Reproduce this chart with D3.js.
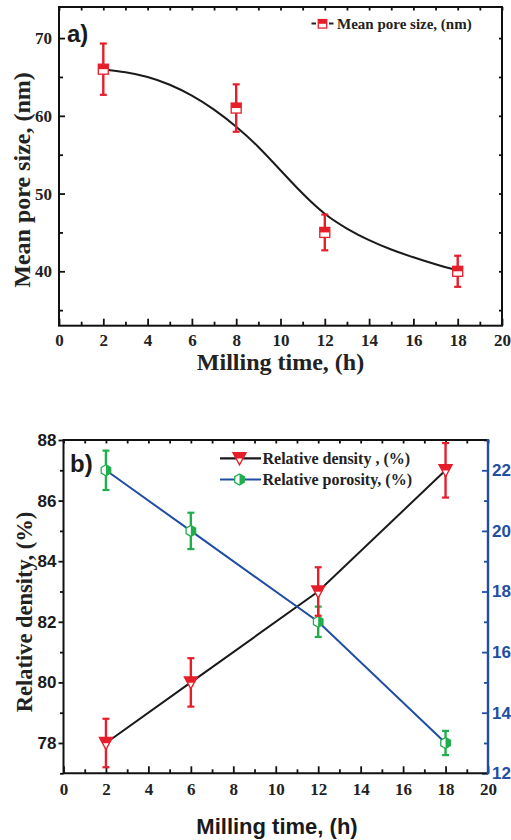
<!DOCTYPE html>
<html>
<head>
<meta charset="utf-8">
<script src="https://cdn.jsdelivr.net/npm/d3@7"></script>
<style>
  html, body { margin: 0; padding: 0; background: #fff; }
  svg { display: block; }
</style>
</head>
<body>
<svg id="chart" width="511" height="840"></svg>
<script>
// ---------- DATA ----------
// Panel a
const timesA = [2, 8, 12, 18];
const poreSize = [66, 61, 45, 40];
const poreErr = [3.3, 3.05, 2.3, 2.0];
const fitTimes = [2, 3, 4, 5, 6, 7, 8, 9, 10, 11, 12, 13, 14, 15, 16, 17, 18];
const fitValues = [66.0, 65.6, 65.0, 64.0, 62.6, 60.8, 58.6, 56.0, 53.0, 50.0, 47.4, 45.5, 44.0, 42.8, 41.8, 40.9, 40.1];
const xTicksA = [0, 2, 4, 6, 8, 10, 12, 14, 16, 18, 20];
const xMinorA = [1, 3, 5, 7, 9, 11, 13, 15, 17, 19];
const yTicksA = [40, 50, 60, 70];
const yMinorA = [35, 45, 55, 65];
const legendA = "Mean pore size, (nm)";
// Panel b
const timesB = [2, 6, 12, 18];
const density = [78, 80, 83, 87];
const densityErr = [0.8, 0.8, 0.8, 0.9];
const porosity = [22, 20, 17, 13];
const porosityErr = [0.65, 0.6, 0.5, 0.4];
const xTicksB = [0, 2, 4, 6, 8, 10, 12, 14, 16, 18, 20];
const xMinorB = [1, 3, 5, 7, 9, 11, 13, 15, 17, 19];
const yTicksB = [78, 80, 82, 84, 86, 88];
const yMinorB = [77, 79, 81, 83, 85, 87];
const yTicksR = [12, 14, 16, 18, 20, 22];
const yMinorR = [13, 15, 17, 19, 21, 23];
const legendB = ["Relative density , (%)", "Relative porosity, (%)"];

// ---------- STYLE ----------
const RED = "#e61e2a", GREEN = "#1fae4b", BLUE = "#1f4ea3";
const SERIF = "'Liberation Serif', 'Times New Roman', serif";
const SANS = "'Liberation Sans', Arial, sans-serif";

const svg = d3.select("#chart");

function styleAxis(g, color) {
  g.select(".domain").remove();
  g.selectAll(".tick line").attr("stroke", color).attr("stroke-width", 1.8);
}

// ================= PANEL A =================
const xA = d3.scaleLinear().domain([0, 20]).range([59, 502]);
const yA = d3.scaleLinear().domain([33, 74]).range([325.7, 7]);
const gA = svg.append("g");

// bottom axis
gA.append("g").attr("transform", `translate(0,${yA.range()[0]})`)
  .call(d3.axisBottom(xA).tickValues(xTicksA).tickSize(-7).tickFormat(d3.format("d")))
  .call(g => { styleAxis(g, "#111");
    g.selectAll("text").attr("y", 20.5).attr("dy", null)
      .attr("font-family", SERIF).attr("font-weight", "bold").attr("font-size", 17).attr("fill", "#222"); });
gA.append("g").attr("transform", `translate(0,${yA.range()[0]})`)
  .call(d3.axisBottom(xA).tickValues(xMinorA).tickSize(-4).tickFormat(""))
  .call(g => styleAxis(g, "#111"));
// top axis ticks
gA.append("g").attr("transform", `translate(0,${yA.range()[1]})`)
  .call(d3.axisTop(xA).tickValues(xTicksA.concat(xMinorA)).tickSize(-3.5).tickFormat(""))
  .call(g => styleAxis(g, "#111"));
// left axis
gA.append("g").attr("transform", `translate(${xA.range()[0]},0)`)
  .call(d3.axisLeft(yA).tickValues(yTicksA).tickSize(-6).tickPadding(7).tickFormat(d3.format("d")))
  .call(g => { styleAxis(g, "#111");
    g.selectAll("text").attr("font-family", SERIF).attr("font-weight", "bold").attr("font-size", 17).attr("fill", "#222"); });
gA.append("g").attr("transform", `translate(${xA.range()[0]},0)`)
  .call(d3.axisLeft(yA).tickValues(yMinorA).tickSize(-4).tickFormat(""))
  .call(g => styleAxis(g, "#111"));
// right axis ticks
gA.append("g").attr("transform", `translate(${xA.range()[1]},0)`)
  .call(d3.axisRight(yA).tickValues(yTicksA.concat(yMinorA)).tickSize(-3).tickFormat(""))
  .call(g => styleAxis(g, "#111"));
// frame
gA.append("rect").attr("x", xA.range()[0]).attr("y", yA.range()[1])
  .attr("width", xA.range()[1] - xA.range()[0]).attr("height", yA.range()[0] - yA.range()[1])
  .attr("fill", "none").attr("stroke", "#111").attr("stroke-width", 2);

// fit curve
const fitData = fitTimes.map((t, i) => [t, fitValues[i]]);
gA.append("path").datum(fitData)
  .attr("d", d3.line().x(d => xA(d[0])).y(d => yA(d[1])).curve(d3.curveNatural))
  .attr("fill", "none").attr("stroke", "#1a1a1a").attr("stroke-width", 2);

function squareMarker(g, cx, cy, s) {
  g.append("rect").attr("x", cx - s / 2).attr("y", cy - s / 2).attr("width", s).attr("height", s)
    .attr("fill", "#fff").attr("stroke", RED).attr("stroke-width", 1.3);
  g.append("rect").attr("x", cx - s / 2).attr("y", cy - s / 2).attr("width", s).attr("height", s * 0.5)
    .attr("fill", RED);
}
function errBar(g, x, y1, y2, color, cap) {
  g.append("line").attr("x1", x).attr("x2", x).attr("y1", y1).attr("y2", y2)
    .attr("stroke", color).attr("stroke-width", 2.4);
  [y1, y2].forEach(y => g.append("line").attr("x1", x - cap).attr("x2", x + cap).attr("y1", y).attr("y2", y)
    .attr("stroke", color).attr("stroke-width", 2.2));
}
timesA.forEach((t, i) => {
  errBar(gA, xA(t), yA(poreSize[i] + poreErr[i]), yA(poreSize[i] - poreErr[i]), RED, 3.5);
  squareMarker(gA, xA(t), yA(poreSize[i]), 10);
});

// legend a
gA.append("line").attr("x1", 311.5).attr("x2", 316).attr("y1", 23.5).attr("y2", 23.5).attr("stroke", "#222").attr("stroke-width", 2);
squareMarker(gA, 322.5, 23.8, 8.5);
gA.append("line").attr("x1", 329).attr("x2", 333.5).attr("y1", 23.5).attr("y2", 23.5).attr("stroke", "#222").attr("stroke-width", 2);
gA.append("text").attr("x", 337).attr("y", 28.5).text(legendA)
  .attr("font-family", SERIF).attr("font-weight", "bold").attr("font-size", 15).attr("fill", "#222");

// labels a
gA.append("text").attr("x", 67).attr("y", 42).text("a)")
  .attr("font-family", SANS).attr("font-weight", "bold").attr("font-size", 24).attr("fill", "#1a1a1a");
gA.append("text").attr("x", 280.5).attr("y", 370).attr("text-anchor", "middle").text("Milling time, (h)")
  .attr("font-family", SERIF).attr("font-weight", "bold").attr("font-size", 24).attr("fill", "#222");
gA.append("text").attr("transform", "translate(30,180) rotate(-90)").attr("text-anchor", "middle")
  .text("Mean pore size, (nm)")
  .attr("font-family", SERIF).attr("font-weight", "bold").attr("font-size", 24).attr("fill", "#222");

// ================= PANEL B =================
const xB = d3.scaleLinear().domain([0, 20]).range([63.5, 488]);
const yB = d3.scaleLinear().domain([77, 88]).range([773.3, 440]);
const yR = d3.scaleLinear().domain([12, 23]).range([773.3, 440]);
const gB = svg.append("g");

// bottom axis
gB.append("g").attr("transform", `translate(0,${yB.range()[0]})`)
  .call(d3.axisBottom(xB).tickValues(xTicksB).tickSize(-7).tickFormat(d3.format("d")))
  .call(g => { styleAxis(g, "#111");
    g.selectAll("text").attr("y", 21.5).attr("dy", null)
      .attr("font-family", SERIF).attr("font-weight", "bold").attr("font-size", 17).attr("fill", "#222"); });
gB.append("g").attr("transform", `translate(0,${yB.range()[0]})`)
  .call(d3.axisBottom(xB).tickValues(xMinorB).tickSize(-4).tickFormat(""))
  .call(g => styleAxis(g, "#111"));
// top ticks
gB.append("g").attr("transform", `translate(0,${yB.range()[1]})`)
  .call(d3.axisTop(xB).tickValues(xTicksB.concat(xMinorB)).tickSize(-3.5).tickFormat(""))
  .call(g => styleAxis(g, "#111"));
// left axis (outward ticks)
gB.append("g").attr("transform", `translate(${xB.range()[0]},0)`)
  .call(d3.axisLeft(yB).tickValues(yTicksB).tickSize(5).tickPadding(2).tickFormat(d3.format("d")))
  .call(g => { styleAxis(g, "#111");
    g.selectAll("text").attr("font-family", SANS).attr("font-weight", "bold").attr("font-size", 17).attr("fill", "#1a1a1a"); });
gB.append("g").attr("transform", `translate(${xB.range()[0]},0)`)
  .call(d3.axisLeft(yB).tickValues(yMinorB).tickSize(3.5).tickFormat(""))
  .call(g => styleAxis(g, "#111"));
// right axis (blue)
gB.append("g").attr("transform", `translate(${xB.range()[1]},0)`)
  .call(d3.axisRight(yR).tickValues(yTicksR).tickSize(-6).tickPadding(4).tickFormat(d3.format("d")))
  .call(g => { styleAxis(g, BLUE);
    g.selectAll("text").attr("font-family", SANS).attr("font-weight", "bold").attr("font-size", 17).attr("fill", BLUE); });
gB.append("g").attr("transform", `translate(${xB.range()[1]},0)`)
  .call(d3.axisRight(yR).tickValues(yMinorR).tickSize(-4).tickFormat(""))
  .call(g => styleAxis(g, BLUE));
// frame lines
gB.append("path").attr("d", `M${xB.range()[1]},${yB.range()[1]}H${xB.range()[0]}V${yB.range()[0]}H${xB.range()[1]}`)
  .attr("fill", "none").attr("stroke", "#111").attr("stroke-width", 2);
gB.append("line").attr("x1", xB.range()[1]).attr("x2", xB.range()[1])
  .attr("y1", yB.range()[1] - 1).attr("y2", yB.range()[0] + 1)
  .attr("stroke", BLUE).attr("stroke-width", 2.4);

// lines
gB.append("path").datum(timesB.map((t, i) => [t, density[i]]))
  .attr("d", d3.line().x(d => xB(d[0])).y(d => yB(d[1])))
  .attr("fill", "none").attr("stroke", "#1a1a1a").attr("stroke-width", 2);
gB.append("path").datum(timesB.map((t, i) => [t, porosity[i]]))
  .attr("d", d3.line().x(d => xB(d[0])).y(d => yR(d[1])))
  .attr("fill", "none").attr("stroke", BLUE).attr("stroke-width", 2);

function triMarker(g, cx, cy) {
  g.append("path").attr("d", `M${cx - 6.5},${cy - 5.5}L${cx + 6.5},${cy - 5.5}L${cx},${cy + 6.5}Z`)
    .attr("fill", "#fff").attr("stroke", RED).attr("stroke-width", 1.4).attr("stroke-linejoin", "miter");
  g.append("path").attr("d", `M${cx - 6.5},${cy - 5.5}L${cx + 6.5},${cy - 5.5}L${cx + 3.6},${cy + 0.3}L${cx - 3.6},${cy + 0.3}Z`)
    .attr("fill", RED);
}
function hexMarker(g, cx, cy) {
  const r = 5.5;
  const pts = d3.range(6).map(k => {
    const a = Math.PI / 6 + k * Math.PI / 3;
    return [cx + r * Math.cos(a), cy + r * Math.sin(a)];
  });
  g.append("path").attr("d", "M" + pts.map(p => p.join(",")).join("L") + "Z")
    .attr("fill", "#fff").attr("stroke", GREEN).attr("stroke-width", 1.3);
  const a30 = r * Math.cos(Math.PI / 6);
  g.append("path").attr("d", `M${cx},${cy - r}L${cx + a30},${cy - r / 2}L${cx + a30},${cy + r / 2}L${cx},${cy + r}Z`)
    .attr("fill", GREEN);
}

timesB.forEach((t, i) => {
  errBar(gB, xB(t), yR(porosity[i] + porosityErr[i]), yR(porosity[i] - porosityErr[i]), GREEN, 3.5);
  hexMarker(gB, xB(t), yR(porosity[i]));
});
timesB.forEach((t, i) => {
  errBar(gB, xB(t), yB(density[i] + densityErr[i]), yB(density[i] - densityErr[i]), RED, 3.5);
  triMarker(gB, xB(t), yB(density[i]));
});

// legend b
gB.append("line").attr("x1", 220).attr("x2", 261).attr("y1", 458.3).attr("y2", 458.3).attr("stroke", "#1a1a1a").attr("stroke-width", 2.2);
triMarker(gB, 239.5, 458.3);
gB.append("line").attr("x1", 220).attr("x2", 261).attr("y1", 479.5).attr("y2", 479.5).attr("stroke", BLUE).attr("stroke-width", 2.2);
hexMarker(gB, 239.5, 479.5);
legendB.forEach((s, i) => {
  gB.append("text").attr("x", 262.5).attr("y", 463.5 + i * 21).text(s)
    .attr("font-family", SERIF).attr("font-weight", "bold").attr("font-size", 16).attr("fill", "#222");
});

// labels b
gB.append("text").attr("x", 70).attr("y", 472).text("b)")
  .attr("font-family", SANS).attr("font-weight", "bold").attr("font-size", 24).attr("fill", "#1a1a1a");
gB.append("text").attr("x", 277).attr("y", 834).attr("text-anchor", "middle").text("Milling time, (h)")
  .attr("font-family", SANS).attr("font-weight", "bold").attr("font-size", 22).attr("fill", "#1a1a1a");
gB.append("text").attr("transform", "translate(31.5,612) rotate(-90)").attr("text-anchor", "middle")
  .text("Relative density, (%)")
  .attr("font-family", SERIF).attr("font-weight", "bold").attr("font-size", 22.5).attr("fill", "#222");
</script>
</body>
</html>
